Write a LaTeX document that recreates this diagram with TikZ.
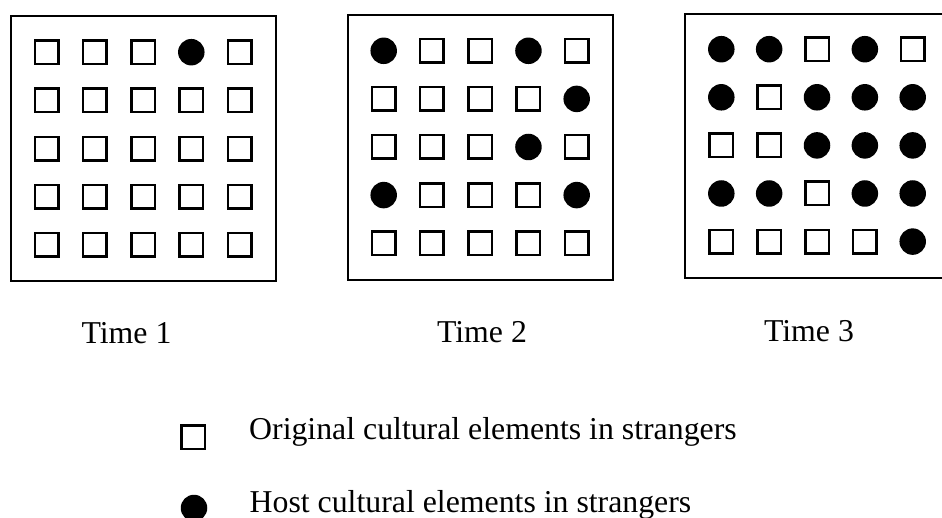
\documentclass[tikz,border=0pt]{standalone}
\usepackage{fontspec}
\setmainfont{Liberation Serif}
\tikzset{
  sq/.style={draw, line width=2.5pt, minimum size=23.5pt, inner sep=0pt, outer sep=0pt},
  dot/.style={circle, fill=black, minimum size=26.5pt, inner sep=0pt, outer sep=0pt},
  frame/.style={draw, line width=2pt},
  lbl/.style={inner sep=0pt, font=\fontsize{31.8}{38}\selectfont},
}
\newcommand\mygrid[6]{%
  \foreach \v [count=\i from 0] in {#6} {
    \pgfmathtruncatemacro\rr{int(\i/5)}
    \pgfmathtruncatemacro\cc{mod(\i,5)}
    \pgfmathsetmacro\xx{#2+\cc*#3}
    \pgfmathsetmacro\yy{#4+\rr*#5}
    \ifnum\v=1
      \node[dot] (#1-\rr-\cc) at (\xx,\yy) {};
    \else
      \node[sq] (#1-\rr-\cc) at (\xx,\yy) {};
    \fi
  }}
\begin{document}
\begin{tikzpicture}[x=1pt,y=-1pt]
  \useasboundingbox (0,0) rectangle (942,518);
  \clip (0,0) rectangle (942,518);
  % frames
  \draw[frame] (11,16) rectangle (276,281);
  \draw[frame] (348,15) rectangle (613,280);
  \draw[frame] (685,14) rectangle (952,278);
  % grids
  \mygrid{a}{46.7}{48.2}{52.2}{48.2}{0,0,0,1,0, 0,0,0,0,0, 0,0,0,0,0, 0,0,0,0,0, 0,0,0,0,0}
  \mygrid{b}{383.7}{48.25}{50.8}{48.1}{1,0,0,1,0, 0,0,0,0,1, 0,0,0,1,0, 1,0,0,0,1, 0,0,0,0,0}
  \mygrid{c}{721.3}{47.85}{49.2}{48.1}{1,1,0,1,0, 1,0,1,1,1, 0,0,1,1,1, 1,1,0,1,1, 0,0,0,0,1}
  % labels
  \node[lbl, anchor=base] (t1) at (126.5,344) {Time 1};
  \node[lbl, anchor=base] (t2) at (482,343) {Time 2};
  \node[lbl, anchor=base] (t3) at (809,342) {Time 3};
  % legend
  \node[sq] (legsq) at (193,437) {};
  \node[dot] (legdot) at (194,508) {};
  \node[lbl, anchor=base west] (leg1) at (249,439) {Original cultural elements in strangers};
  \node[lbl, anchor=base west] (leg2) at (249.5,512) {Host cultural elements in strangers};
\end{tikzpicture}
\end{document}
